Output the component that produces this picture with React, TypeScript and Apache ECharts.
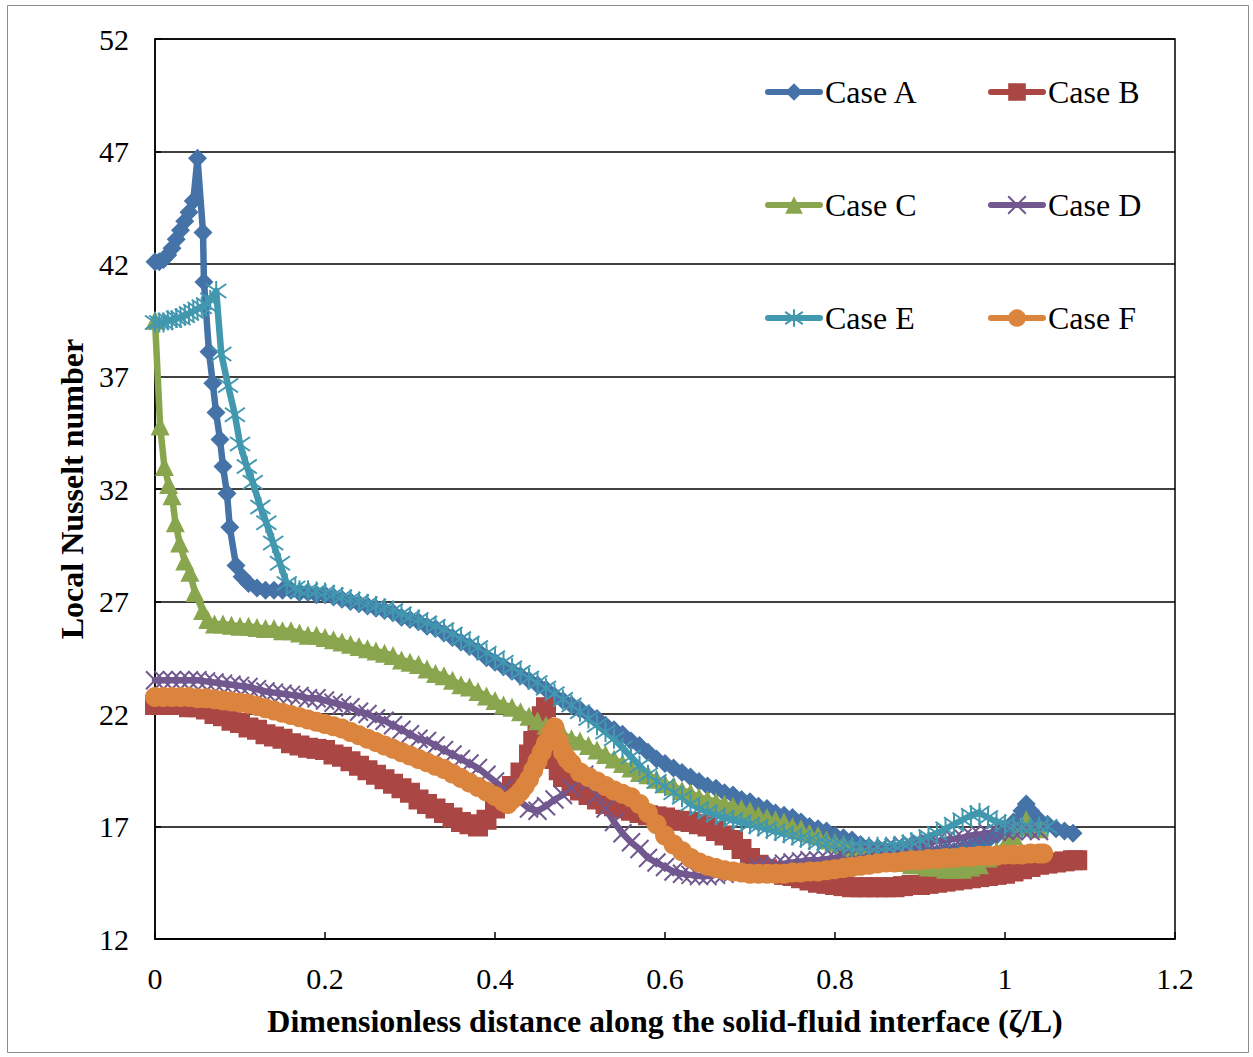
import React, { useEffect, useRef } from "react";
import * as echarts from "echarts";

// ---------- data (ζ/L, local Nusselt number) ----------
const caseA: [number, number][] = [
  [0, 42.1], [0.005, 42.1], [0.01, 42.2], [0.015, 42.4], [0.02, 42.7], [0.025, 43.1], [0.03, 43.5], [0.035, 43.9],
  [0.04, 44.3], [0.045, 44.8], [0.05, 46.7], [0.0565, 43.4], [0.0576, 41.2], [0.0635, 38.1], [0.068, 36.7],
  [0.0718, 35.4], [0.0765, 34.2], [0.08, 33.0], [0.0847, 31.8], [0.088, 30.3], [0.0953, 28.6], [0.1024, 28.1],
  [0.11, 27.8], [0.12, 27.6], [0.13, 27.5], [0.14, 27.5], [0.15, 27.5], [0.16, 27.5], [0.17, 27.4], [0.18, 27.4],
  [0.19, 27.3], [0.2, 27.3], [0.21, 27.2], [0.22, 27.1], [0.23, 27.0], [0.24, 26.9], [0.25, 26.8], [0.26, 26.7],
  [0.27, 26.6], [0.28, 26.5], [0.29, 26.3], [0.3, 26.2], [0.31, 26.1], [0.32, 25.9], [0.33, 25.8], [0.34, 25.6],
  [0.35, 25.4], [0.36, 25.2], [0.37, 25.0], [0.38, 24.8], [0.39, 24.5], [0.4, 24.3], [0.41, 24.1], [0.42, 23.9],
  [0.43, 23.7], [0.44, 23.5], [0.45, 23.3], [0.46, 23.1], [0.47, 22.8], [0.48, 22.6], [0.49, 22.4], [0.5, 22.2],
  [0.51, 22.0], [0.52, 21.8], [0.53, 21.5], [0.54, 21.3], [0.55, 21.1], [0.56, 20.8], [0.57, 20.6], [0.58, 20.3],
  [0.59, 20.0], [0.6, 19.8], [0.61, 19.6], [0.62, 19.4], [0.63, 19.2], [0.64, 19.0], [0.65, 18.8], [0.66, 18.7],
  [0.67, 18.5], [0.68, 18.4], [0.69, 18.2], [0.7, 18.1], [0.71, 17.9], [0.72, 17.8], [0.73, 17.6], [0.74, 17.5],
  [0.75, 17.4], [0.76, 17.2], [0.77, 17.0], [0.78, 16.9], [0.79, 16.8], [0.8, 16.6], [0.81, 16.5], [0.82, 16.4],
  [0.83, 16.2], [0.84, 16.1], [0.85, 16.0], [0.86, 15.9], [0.87, 15.9], [0.88, 15.8], [0.89, 15.8], [0.9, 15.8],
  [0.91, 15.8], [0.92, 15.8], [0.93, 15.9], [0.94, 15.9], [0.95, 16.0], [0.96, 16.1], [0.97, 16.2], [0.98, 16.4],
  [0.99, 16.6], [1.0, 16.8], [1.01, 17.2], [1.02, 17.7], [1.025, 18.0], [1.03, 17.7], [1.04, 17.3], [1.05, 17.1],
  [1.06, 16.9], [1.07, 16.8], [1.08, 16.7],
];

const caseB: [number, number][] = [
  [0, 22.4], [0.01, 22.4], [0.02, 22.4], [0.03, 22.4], [0.04, 22.3], [0.05, 22.3], [0.06, 22.2], [0.07, 22.0],
  [0.08, 21.9], [0.09, 21.7], [0.1, 21.6], [0.11, 21.4], [0.12, 21.3], [0.13, 21.1], [0.14, 21.0], [0.15, 20.9],
  [0.16, 20.7], [0.17, 20.6], [0.18, 20.5], [0.19, 20.45], [0.2, 20.4], [0.21, 20.2], [0.22, 20.1], [0.23, 19.9],
  [0.24, 19.7], [0.25, 19.5], [0.26, 19.3], [0.27, 19.1], [0.28, 18.9], [0.29, 18.7], [0.3, 18.5], [0.31, 18.2],
  [0.32, 18.0], [0.33, 17.8], [0.34, 17.6], [0.35, 17.4], [0.36, 17.2], [0.37, 17.1], [0.38, 17.0], [0.39, 17.3],
  [0.4, 17.8], [0.41, 18.4], [0.42, 18.8], [0.43, 19.4], [0.44, 20.2], [0.445, 20.8], [0.45, 21.3], [0.455, 21.9],
  [0.46, 22.3], [0.465, 21.2], [0.47, 20.0], [0.475, 19.5], [0.48, 19.2], [0.49, 18.8], [0.5, 18.6], [0.51, 18.4],
  [0.52, 18.2], [0.53, 18.0], [0.54, 17.9], [0.55, 17.8], [0.56, 17.7], [0.57, 17.6], [0.58, 17.5], [0.59, 17.45],
  [0.6, 17.4], [0.61, 17.3], [0.62, 17.25], [0.63, 17.2], [0.64, 17.1], [0.65, 17.0], [0.66, 16.8], [0.67, 16.6],
  [0.68, 16.4], [0.69, 16.0], [0.7, 15.6], [0.71, 15.3], [0.72, 15.1], [0.73, 14.95], [0.74, 14.85], [0.75, 14.8],
  [0.76, 14.7], [0.77, 14.6], [0.78, 14.5], [0.79, 14.45], [0.8, 14.4], [0.81, 14.35], [0.82, 14.3], [0.83, 14.3],
  [0.84, 14.3], [0.85, 14.3], [0.86, 14.3], [0.87, 14.3], [0.88, 14.35], [0.89, 14.4], [0.9, 14.4], [0.91, 14.45],
  [0.92, 14.5], [0.93, 14.55], [0.94, 14.6], [0.95, 14.65], [0.96, 14.7], [0.97, 14.75], [0.98, 14.8], [0.99, 14.85],
  [1.0, 14.9], [1.01, 15.0], [1.02, 15.1], [1.03, 15.2], [1.04, 15.3], [1.05, 15.35], [1.06, 15.4], [1.07, 15.45],
  [1.08, 15.5], [1.085, 15.5],
];

const caseC: [number, number][] = [
  [0, 39.5], [0.006, 34.8], [0.011, 33.0], [0.016, 32.2], [0.02, 31.7], [0.024, 30.5], [0.029, 29.6], [0.035, 28.8],
  [0.041, 28.3], [0.047, 27.4], [0.056, 26.6], [0.062, 26.2], [0.07, 26.0], [0.08, 26.0], [0.09, 25.95], [0.1, 25.9],
  [0.11, 25.9], [0.12, 25.85], [0.13, 25.8], [0.14, 25.8], [0.15, 25.7], [0.16, 25.7], [0.17, 25.6], [0.18, 25.5],
  [0.19, 25.5], [0.2, 25.4], [0.21, 25.3], [0.22, 25.2], [0.23, 25.1], [0.24, 25.0], [0.25, 24.9], [0.26, 24.8],
  [0.27, 24.7], [0.28, 24.6], [0.29, 24.4], [0.3, 24.3], [0.31, 24.2], [0.32, 24.0], [0.33, 23.8], [0.34, 23.7],
  [0.35, 23.5], [0.36, 23.3], [0.37, 23.2], [0.38, 23.0], [0.39, 22.8], [0.4, 22.6], [0.41, 22.4], [0.42, 22.3],
  [0.43, 22.1], [0.44, 21.9], [0.45, 21.7], [0.46, 21.5], [0.47, 21.3], [0.48, 21.1], [0.49, 20.9], [0.5, 20.8],
  [0.51, 20.6], [0.52, 20.4], [0.53, 20.2], [0.54, 20.0], [0.55, 19.8], [0.56, 19.6], [0.57, 19.4], [0.58, 19.3],
  [0.59, 19.1], [0.6, 18.9], [0.61, 18.8], [0.62, 18.6], [0.63, 18.5], [0.64, 18.3], [0.65, 18.2], [0.66, 18.1],
  [0.67, 18.0], [0.68, 17.9], [0.69, 17.8], [0.7, 17.7], [0.71, 17.5], [0.72, 17.4], [0.73, 17.3], [0.74, 17.2],
  [0.75, 17.0], [0.76, 16.9], [0.77, 16.7], [0.78, 16.6], [0.79, 16.4], [0.8, 16.3], [0.81, 16.2], [0.82, 16.0],
  [0.83, 15.9], [0.84, 15.8], [0.85, 15.7], [0.86, 15.6], [0.87, 15.5], [0.88, 15.4], [0.89, 15.3], [0.9, 15.3],
  [0.91, 15.2], [0.92, 15.2], [0.93, 15.1], [0.94, 15.1], [0.95, 15.1], [0.96, 15.2], [0.97, 15.3], [0.98, 15.6],
  [0.99, 15.9], [1.0, 16.2], [1.01, 16.6], [1.02, 17.0], [1.025, 17.3], [1.03, 17.0], [1.04, 16.9],
];

const caseD: [number, number][] = [
  [0, 23.5], [0.01, 23.5], [0.02, 23.5], [0.03, 23.5], [0.04, 23.5], [0.05, 23.5], [0.06, 23.45], [0.07, 23.4],
  [0.08, 23.35], [0.09, 23.3], [0.1, 23.25], [0.11, 23.2], [0.12, 23.1], [0.13, 23.0], [0.14, 22.95], [0.15, 22.9],
  [0.16, 22.85], [0.17, 22.8], [0.18, 22.7], [0.19, 22.7], [0.2, 22.6], [0.21, 22.5], [0.22, 22.4], [0.23, 22.3],
  [0.24, 22.1], [0.25, 22.0], [0.26, 21.8], [0.27, 21.7], [0.28, 21.5], [0.29, 21.3], [0.3, 21.1], [0.31, 20.9],
  [0.32, 20.8], [0.33, 20.6], [0.34, 20.4], [0.35, 20.2], [0.36, 20.0], [0.37, 19.8], [0.38, 19.6], [0.39, 19.3],
  [0.4, 19.0], [0.41, 18.7], [0.42, 18.4], [0.43, 18.1], [0.44, 17.8], [0.45, 17.7], [0.46, 17.9], [0.47, 18.2],
  [0.48, 18.4], [0.49, 18.7], [0.5, 19.1], [0.505, 19.3], [0.51, 19.0], [0.52, 18.4], [0.53, 17.8], [0.54, 17.2],
  [0.55, 16.7], [0.56, 16.3], [0.57, 16.0], [0.58, 15.6], [0.59, 15.4], [0.6, 15.2], [0.61, 15.0], [0.62, 14.9],
  [0.63, 14.85], [0.64, 14.8], [0.65, 14.8], [0.66, 14.85], [0.67, 14.9], [0.68, 14.95], [0.69, 15.0], [0.7, 15.1],
  [0.71, 15.2], [0.72, 15.25], [0.73, 15.3], [0.74, 15.35], [0.75, 15.4], [0.76, 15.45], [0.77, 15.5], [0.78, 15.5],
  [0.79, 15.55], [0.8, 15.6], [0.81, 15.7], [0.82, 15.75], [0.83, 15.8], [0.84, 15.9], [0.85, 16.0], [0.86, 16.05],
  [0.87, 16.1], [0.88, 16.15], [0.89, 16.2], [0.9, 16.25], [0.91, 16.3], [0.92, 16.35], [0.93, 16.4], [0.94, 16.45],
  [0.95, 16.5], [0.96, 16.6], [0.97, 16.65], [0.98, 16.7], [0.99, 16.75], [1.0, 16.8], [1.01, 16.8], [1.02, 16.85],
  [1.03, 16.8], [1.04, 16.8],
];

const caseE: [number, number][] = [
  [0, 39.4], [0.005, 39.4], [0.01, 39.4], [0.015, 39.5], [0.02, 39.5], [0.025, 39.6], [0.03, 39.6], [0.035, 39.7],
  [0.04, 39.8], [0.045, 39.9], [0.05, 40.0], [0.055, 40.1], [0.06, 40.2], [0.065, 40.4], [0.072, 40.8],
  [0.078, 38.0], [0.086, 36.6], [0.094, 35.3], [0.1, 34.0], [0.108, 33.0], [0.115, 32.3], [0.124, 31.2],
  [0.131, 30.5], [0.139, 29.6], [0.147, 28.7], [0.155, 27.8], [0.165, 27.6], [0.17, 27.5], [0.18, 27.5],
  [0.19, 27.45], [0.2, 27.4], [0.21, 27.3], [0.22, 27.2], [0.23, 27.1], [0.24, 27.0], [0.25, 26.9], [0.26, 26.8],
  [0.27, 26.7], [0.28, 26.6], [0.29, 26.45], [0.3, 26.3], [0.31, 26.2], [0.32, 26.05], [0.33, 25.9], [0.34, 25.75],
  [0.35, 25.55], [0.36, 25.35], [0.37, 25.15], [0.38, 24.95], [0.39, 24.7], [0.4, 24.5], [0.41, 24.3], [0.42, 24.05],
  [0.43, 23.85], [0.44, 23.6], [0.45, 23.4], [0.46, 23.15], [0.47, 22.9], [0.48, 22.65], [0.49, 22.4], [0.5, 22.1],
  [0.51, 21.8], [0.52, 21.5], [0.53, 21.2], [0.54, 20.9], [0.55, 20.5], [0.56, 20.1], [0.57, 19.7], [0.58, 19.3],
  [0.59, 19.0], [0.6, 18.8], [0.61, 18.5], [0.62, 18.3], [0.63, 18.0], [0.64, 17.8], [0.65, 17.65], [0.66, 17.5],
  [0.67, 17.4], [0.68, 17.3], [0.69, 17.2], [0.7, 17.1], [0.71, 17.0], [0.72, 16.9], [0.73, 16.8], [0.74, 16.7],
  [0.75, 16.6], [0.76, 16.5], [0.77, 16.4], [0.78, 16.3], [0.79, 16.25], [0.8, 16.2], [0.81, 16.15], [0.82, 16.1],
  [0.83, 16.1], [0.84, 16.1], [0.85, 16.1], [0.86, 16.1], [0.87, 16.15], [0.88, 16.2], [0.89, 16.3], [0.9, 16.4],
  [0.91, 16.55], [0.92, 16.7], [0.93, 16.9], [0.94, 17.1], [0.95, 17.3], [0.96, 17.5], [0.97, 17.6], [0.98, 17.4],
  [0.99, 17.2], [1.0, 17.1], [1.01, 17.0], [1.02, 16.95], [1.03, 16.95], [1.04, 17.0], [1.05, 17.0],
];

const caseF: [number, number][] = [
  [0, 22.75], [0.01, 22.75], [0.02, 22.75], [0.03, 22.75], [0.04, 22.75], [0.05, 22.7], [0.06, 22.7], [0.07, 22.65],
  [0.08, 22.6], [0.09, 22.55], [0.1, 22.5], [0.11, 22.45], [0.12, 22.35], [0.13, 22.25], [0.14, 22.15], [0.15, 22.05],
  [0.16, 21.95], [0.17, 21.85], [0.18, 21.75], [0.19, 21.65], [0.2, 21.55], [0.21, 21.45], [0.22, 21.35], [0.23, 21.2],
  [0.24, 21.05], [0.25, 20.9], [0.26, 20.75], [0.27, 20.6], [0.28, 20.45], [0.29, 20.3], [0.3, 20.15], [0.31, 20.0],
  [0.32, 19.85], [0.33, 19.7], [0.34, 19.55], [0.35, 19.35], [0.36, 19.15], [0.37, 18.95], [0.38, 18.75], [0.39, 18.55],
  [0.4, 18.35], [0.41, 18.1], [0.415, 18.0], [0.42, 18.2], [0.425, 18.35], [0.43, 18.55], [0.435, 18.8], [0.44, 19.1],
  [0.445, 19.5], [0.45, 19.9], [0.455, 20.3], [0.46, 20.7], [0.465, 21.1], [0.47, 21.4], [0.475, 20.8], [0.48, 20.3],
  [0.485, 20.0], [0.49, 19.8], [0.5, 19.4], [0.51, 19.2], [0.52, 19.0], [0.53, 18.8], [0.54, 18.6], [0.55, 18.45],
  [0.56, 18.3], [0.57, 18.0], [0.58, 17.6], [0.59, 17.1], [0.6, 16.6], [0.61, 16.2], [0.62, 15.9], [0.63, 15.6],
  [0.64, 15.4], [0.65, 15.25], [0.66, 15.15], [0.67, 15.05], [0.68, 15.0], [0.69, 14.95], [0.7, 14.9], [0.71, 14.9],
  [0.72, 14.9], [0.73, 14.9], [0.74, 14.9], [0.75, 14.95], [0.76, 14.95], [0.77, 15.0], [0.78, 15.0], [0.79, 15.05],
  [0.8, 15.1], [0.81, 15.15], [0.82, 15.2], [0.83, 15.25], [0.84, 15.3], [0.85, 15.35], [0.86, 15.4], [0.87, 15.4],
  [0.88, 15.45], [0.89, 15.5], [0.9, 15.5], [0.91, 15.55], [0.92, 15.55], [0.93, 15.6], [0.94, 15.6], [0.95, 15.65],
  [0.96, 15.65], [0.97, 15.7], [0.98, 15.7], [0.99, 15.7], [1.0, 15.75], [1.01, 15.75], [1.02, 15.75], [1.03, 15.8],
  [1.04, 15.8], [1.045, 15.8],
];

const seriesNames = ["Case A", "Case B", "Case C", "Case D", "Case E", "Case F"];
const xAxisTitle = "Dimensionless distance along the solid-fluid interface (ζ/L)";
const yAxisTitle = "Local Nusselt number";

// ---------- styling ----------
const FONT = "'Liberation Serif', 'Times New Roman', serif";
const COLORS = ["#4572A7", "#AA4643", "#89A54E", "#71588F", "#4198AF", "#DB843D"];
const SYMBOLS = [
  "diamond",
  "rect",
  "triangle",
  "path://M0 0L10 10M10 0L0 10",
  "path://M5 0L5 10M0.8 1.5L9.2 8.5M9.2 1.5L0.8 8.5",
  "circle",
];
const SYMBOL_SIZES = [19, 20, 19, 18, 20, 20];
const STROKE_ONLY = [false, false, false, true, true, false];

export default function App() {
  const ref = useRef<HTMLDivElement>(null);

  useEffect(() => {
    if (!ref.current) return;
    const chart = echarts.init(ref.current, undefined, { renderer: "svg" });
    const datasets = [caseA, caseB, caseC, caseD, caseE, caseF];

    const series = datasets.map((d, i) => ({
      type: "line",
      name: seriesNames[i],
      data: d,
      symbol: SYMBOLS[i],
      symbolSize: SYMBOL_SIZES[i],
      showSymbol: true,
      showAllSymbol: true,
      lineStyle: { color: COLORS[i], width: 6.5, cap: "round", join: "round" },
      itemStyle: STROKE_ONLY[i]
        ? { color: COLORS[i], borderColor: COLORS[i], borderWidth: 2 }
        : { color: COLORS[i], borderWidth: 0 },
      emphasis: { disabled: true },
      z: 2,
    }));

    const legendPos = [
      [765, 93], [988, 93],
      [765, 206], [988, 206],
      [765, 319], [988, 319],
    ];
    const legends = seriesNames.map((n, i) => ({
      data: [n],
      left: legendPos[i][0],
      top: legendPos[i][1] - 18,
      padding: 0,
      itemWidth: 52,
      itemHeight: 22,
      selectedMode: false,
      lineStyle: { width: 6, cap: "round" },
      textStyle: { fontFamily: FONT, fontSize: 32, color: "#000", lineHeight: 34 },
    }));

    chart.setOption({
      animation: false,
      backgroundColor: "#fff",
      grid: {
        left: 155,
        top: 39,
        width: 1020,
        height: 900,
        show: true,
        borderColor: "#000",
        borderWidth: 1.5,
        containLabel: false,
      },
      legend: legends,
      xAxis: {
        type: "value",
        min: 0,
        max: 1.2,
        interval: 0.2,
        name: xAxisTitle,
        nameLocation: "middle",
        nameGap: 66,
        nameTextStyle: { fontFamily: FONT, fontSize: 32, fontWeight: "bold", color: "#000" },
        axisLine: { show: true, onZero: false, lineStyle: { color: "#000", width: 1.5 } },
        axisTick: { show: true, inside: true, length: 7, lineStyle: { color: "#000", width: 1.5 } },
        axisLabel: { fontFamily: FONT, fontSize: 30, color: "#000", margin: 24 },
        splitLine: { show: false },
      },
      yAxis: {
        type: "value",
        min: 12,
        max: 52,
        interval: 5,
        name: yAxisTitle,
        nameLocation: "middle",
        nameGap: 66,
        nameTextStyle: { fontFamily: FONT, fontSize: 32, fontWeight: "bold", color: "#000" },
        axisLine: { show: true, lineStyle: { color: "#000", width: 1.5 } },
        axisTick: { show: true, inside: true, length: 6, lineStyle: { color: "#000", width: 1.5 } },
        axisLabel: { fontFamily: FONT, fontSize: 30, color: "#000", margin: 26 },
        splitLine: { show: true, lineStyle: { color: "#000", width: 1.5 } },
      },
      graphic: [
        {
          type: "rect",
          shape: { x: 7.5, y: 5.5, width: 1241, height: 1047 },
          style: { fill: "none", stroke: "#8c8c8c", lineWidth: 1 },
          silent: true,
          z: 0,
        },
      ],
      series,
    });

    return () => chart.dispose();
  }, []);

  return (
    <div
      ref={ref}
      style={{ position: "absolute", left: 0, top: 0, width: 1253, height: 1057 }}
    />
  );
}
